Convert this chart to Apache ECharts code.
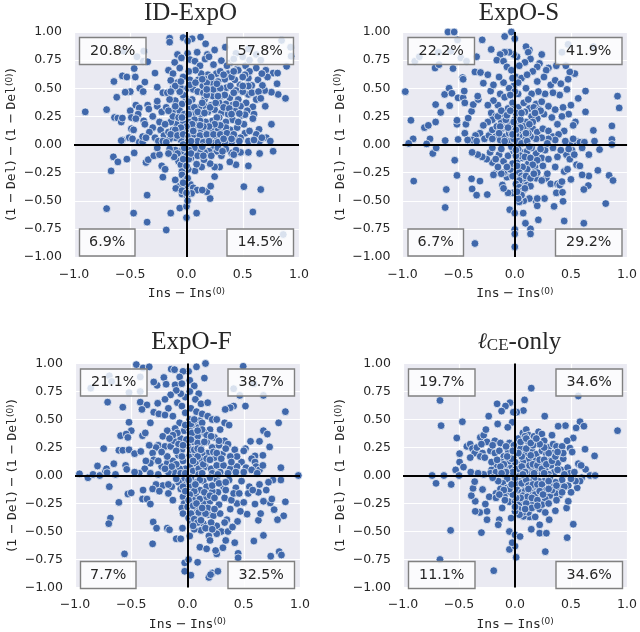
<!DOCTYPE html>
<html><head><meta charset="utf-8">
<script src="https://cdn.jsdelivr.net/npm/echarts@6/dist/echarts.min.js"></script>
<style>html,body{margin:0;padding:0;background:#fff}#c{width:640px;height:632px}</style></head>
<body><div id="c"></div>
<script>
const panelTitles = ['ID-ExpO', 'ExpO-S', 'ExpO-F', '{l|ℓ}{sub|CE}{t|-only}'];
const quadrantLabels = [
  ['20.8%', '57.8%', '6.9%', '14.5%'],
  ['22.2%', '41.9%', '6.7%', '29.2%'],
  ['21.1%', '38.7%', '7.7%', '32.5%'],
  ['19.7%', '34.6%', '11.1%', '34.6%']
];
const idExpO = [
[-.90,.29],[-.71,.31],[-.71,-.57],[-.47,-.61],[-.35,-.69],[-.18,-.76],[-.14,-.61],[-.06,-.565],[0,-.55],[0,-.65],[.09,-.61],[.59,-.60],[.66,-.40],[.51,-.375],[.86,-.80],[.21,-.48],[.18,-.42],[.215,-.37],[.25,-.285],[-.35,-.45],[-.21,-.29],[-.67,-.235],[-.65,-.11],[-.61,-.155],[-.53,-.13],[-.465,-.075],[-.36,-.16],[-.34,-.135],[-.29,-.1],[-.24,-.09],[-.22,-.19],[-.19,-.22],[-.10,-.315],[-.07,-.375],[-.095,-.39],[-.04,-.44],[-.01,-.39],[-.04,-.41],[.035,-.355],[.06,-.385],[.095,-.405],[.14,-.405],[.045,-.435],[.005,-.46],[0,-.43],[.01,-.5],
[-.645,.56],[-.57,.61],[-.53,.6],[-.455,.6],[-.465,.675],[-.37,.555],[-.415,.5],[-.385,.47],[-.5,.47],[-.545,.465],[-.62,.42],[-.28,.635],[-.26,.51],[-.385,.74],[-.345,.735],[-.38,.83],[-.56,.83],[-.44,.78],[-.64,.24],[-.61,.235],[-.58,.2],[-.57,.235],[-.5,.3],[-.49,.24],[-.49,.14],[-.47,.13],[-.51,.06],[-.57,.04],[-.58,.035],[-.48,.05],[-.42,.02],[-.39,.02],[-.45,.35],[-.42,.325],[-.43,.27],[-.45,.23],[-.38,.21],[-.37,.18],[-.345,.35],[-.335,.315],[-.3,.25],[-.3,.15],[-.33,.11],[-.39,.07],[-.36,.06],[-.26,.34],[-.26,.385],[-.22,.29],[-.24,.2],[-.23,.13],[-.28,.06],[-.25,.03],[-.21,.46],[-.17,.46],
[-.15,.945],[-.15,.91],[-.03,.95],[.05,.94],[.125,.955],[.01,.92],[.17,.895],[-.08,.80],[.01,.81],[.095,.82],[.185,.80],[.25,.84],[.345,.865],[-.105,.73],[-.06,.68],[-.16,.66],[-.12,.63],[-.045,.77],[.03,.755],[.075,.74],[.12,.70],[.165,.76],[.2,.78],[.24,.71],[.31,.745],[.385,.725],[.45,.67],[.525,.70],[.62,.68],[.705,.66],[.77,.635],[.81,.635],[.89,.695],[.845,.925],[.925,.865],[.93,.785],[.805,.54],[.815,.445],[.88,.41],[.755,.465],[.695,.48],[.72,.60],[.635,.575],[.675,.525],[.62,.40],[.55,.445],[.475,.53],[.355,.505],[.265,.49],[.205,.49],[.145,.52],[.105,.575],[.03,.575],[.265,.63],[.19,.62],[.37,.63],[.43,.575],[.55,.59],[.58,.525],[.70,.34],[.59,.335],[.53,.37],[.46,.40],[.385,.415],[.31,.43],[.235,.43],[.16,.40],
[.44,.81],[.55,.85],[.62,.8],[.66,.75],[.56,.75],[.5,.78],[.42,.76],[.36,.7],[.3,.65],[.56,.65],[.67,.63],[.52,.62],[.46,.66],[.4,.6],[.34,.58],[.28,.56],[.23,.55],[.17,.58],[.13,.63],[.08,.66],[.02,.65],[-.03,.6],[-.08,.55],[-.14,.57],[-.12,.5],[-.05,.5],[.01,.5],[.06,.49],[.1,.47],[.15,.46],[.18,.55],[.24,.49],[.3,.5],[.39,.52],[.44,.48],[.5,.47],[.58,.46],[.64,.47],[.66,.41],[.48,.34],[.41,.35],[.35,.36],[.29,.37],[.22,.35],[.16,.34],[.11,.33],[.05,.4],[-.01,.42],[-.04,.36],[-.1,.39],[-.15,.4],[-.18,.33],[-.12,.3],[-.06,.3],[-.02,.27],[.03,.33],[.08,.28],[.13,.27],[.19,.29],[.25,.31],[.31,.28],[.37,.27],[.43,.3],[.49,.26],[.54,.3],[.6,.27],
[.755,.18],[.645,.135],[.62,.09],[.71,.06],[.745,.03],[.65,.03],[.52,.10],[.59,.23],[.52,.265],[.47,.275],[.41,.22],[.35,.2],[.29,.24],[.23,.21],[.17,.2],[.12,.21],[.07,.22],[.02,.2],[-.03,.19],[-.09,.18],[-.14,.2],[-.19,.18],[-.2,.08],[-.16,.11],[-.12,.13],[-.07,.1],[-.02,.12],[.03,.14],[.08,.13],[.13,.11],[.18,.13],[.23,.12],[.28,.14],[.33,.1],[.39,.13],[.45,.15],[.51,.18],[.56,.12],[.48,.06],[.43,.05],[.37,.07],[.31,.06],[.27,.04],[.21,.07],[.16,.05],[.1,.06],[.05,.07],[0,.05],[-.05,.04],[-.1,.06],[-.15,.05],[-.21,.03],[-.18,.02],[.55,.03],[.6,.04],[.67,.06],[.4,.02],[.34,.02],[.24,.01],[.11,.01],[.06,.02],[-.03,0],
[.77,-.06],[.65,-.08],[.55,-.07],[.44,-.18],[.385,-.155],[.55,-.19],[.40,-.075],[.31,-.10],[.235,-.045],[.295,-.20],[.25,-.2],[.21,-.17],[.135,-.20],[.075,-.235],[.015,-.22],[.09,-.175],[.155,-.135],[.075,-.09],[.48,-.07],[.44,-.05],[.42,-.09],[.35,-.04],[.27,-.06],[.2,-.06],[.16,-.07],[.12,-.05],[.07,-.03],[.02,-.05],[.04,-.12],[-.02,-.1],[-.05,-.06],[-.1,-.05],[-.15,-.04],[-.26,-.03],[-.07,-.15],[-.05,-.18],[-.04,-.24],[-.04,-.27],[0,-.19],[.02,-.13],[-.01,-.32],[.01,-.3],[-.03,-.34],
[-.02,.44],[.02,.38],[.07,.33],[.1,.29],[.14,.37],[.18,.44],[.21,.33],[.26,.37],[.27,.24],[.33,.33],[.38,.32],[.44,.36],[.4,.27],[.46,.2],[.35,.15],[.3,.17],[.25,.18],[.2,.16],[.15,.16],[.1,.17],[.05,.18],[0,.16],[-.05,.15],[-.1,.13],[-.14,.09],[-.08,.08],[-.03,.09],[.02,.07],[.07,.09],[.12,.08],[.18,.09],[.24,.09],[.3,.09],[.36,.1],[.42,.09],[.1,.03],[.04,.03],[.15,.02],[.2,.03],[.28,.02],[.33,.05],[.4,.05],[.47,.03],[-.02,-.03],[.04,-.08],[.1,-.1],[.15,-.1],[.22,-.1],[.28,-.03],[.32,-.06],[.14,-.02],[-.08,-.08],[-.03,-.13],[-.11,-.11],[-.16,-.08],[-.12,.25],[-.07,.24],[-.16,.3],[-.1,.34],[-.04,.24],[.02,.27],[-.03,.44],[-.06,.47],[-.1,.52],[-.14,.47],[-.05,.56],[.03,.53],[.08,.55],[.14,.58],[.18,.49],[.22,.6],[.27,.54],[.33,.62],[.42,.65],[.5,.6],[.55,.52],[.5,.52],[.42,.46],[.34,.44],[.28,.43],[.16,.28],[.06,.12],[.12,.17]
];
const expOS = [
[-.975,.47],[-.925,.215],[-.90,-.325],[-.905,.05],[-.945,.01],[-.805,.15],[-.77,.17],[-.705,.2],[-.755,.05],[-.785,.005],[-.73,-.08],[-.70,-.03],[-.62,.035],[-.61,-.40],[-.62,-.56],[-.355,-.88],[-.515,-.275],[-.535,-.14],[-.385,-.305],[-.31,-.325],[-.38,-.395],[-.34,-.45],[-.245,-.445],[-.505,.045],[-.515,.18],[-.515,.215],[-.435,.18],[-.445,.10],[-.415,.235],[-.385,.295],[-.705,.355],[-.66,.285],[-.625,.445],[-.585,.50],[-.56,.455],[-.58,.345],[-.505,.415],[-.46,.415],[-.45,.475],[-.445,.37],[-.37,.355],[-.325,.40],[-.33,.43],[-.465,.595],[-.46,.58],[-.55,.675],[-.71,.68],[-.675,.71],[-.595,1],[-.54,1],[-.51,.93],[-.29,.93],[-.21,.845],[-.09,.96],[-.03,1],[0,.94],[-.89,.74],[-.85,.78],[-.68,.82],[-.57,.83],[-.48,.77],[-.43,.74],[-.34,.78],[-.355,.645],[-.305,.64],[-.28,.545],[-.24,.62],[-.215,.475],
[.915,.43],[.93,.325],[.865,.165],[.865,.045],[.865,0],[.84,-.275],[.875,-.32],[.81,-.525],[.74,-.23],[.66,-.28],[.655,-.365],[.615,-.40],[.615,-.70],[.44,-.68],[.43,-.505],[.70,.125],[.755,-.045],[.71,.03],[.66,-.09],[.63,.475],[.565,.41],[.63,.29],[.535,.63],[.49,.645],[.475,.58],[.465,.49],[.455,.70],[.70,.87],[.475,.89],[.42,.82],[.37,.7],[.3,.68],[.24,.8],[.13,.84],[.1,.87],[.12,.82],[.14,.76],[.22,.72],[.28,.66],[.2,.69],[.16,.65],[.09,.73],[.02,.78],[.04,.7],[-.01,.8],[-.05,.82],[-.09,.82],[-.13,.8],[-.16,.75],[-.1,.74],[-.07,.69],[-.03,.66],[.01,.6],[.06,.59],[.11,.62],[.2,.56],[.26,.6],[.32,.53],[.36,.57],[.41,.54],[.4,.44],[.34,.46],[.27,.45],[.21,.47],[.15,.45],[.1,.5],[.03,.45],[-.01,.52],[-.05,.5],[-.1,.55],[-.14,.6],[-.19,.53],[-.13,.45],[-.09,.42],[-.15,.35],[-.19,.39],[-.24,.35],[-.21,.28],[-.17,.25],[-.2,.22],[-.24,.2],[-.28,.17],[-.31,.1],[-.35,.08],[-.38,.04],[-.42,.04],[-.34,.03],[-.27,.05],[-.23,.08],[-.2,.13],[-.16,.16],[-.12,.2],[-.1,.27],[-.06,.32],[-.02,.37],[.03,.33],[.08,.37],[.13,.32],[.19,.36],[.24,.38],[.3,.34],[.36,.31],[.43,.33],[.5,.35],[.48,.27],[.42,.25],[.54,.2],[.52,.17],[.44,.12],[.38,.18],[.33,.24],[.26,.27],[.2,.23],[.15,.25],[.1,.2],[.04,.26],[0,.22],[-.04,.19],[-.08,.15],[-.13,.12],[-.17,.07],[-.13,.04],[-.09,.07],[-.05,.1],[-.02,.15],[.03,.17],[.07,.12],[.11,.15],[.16,.14],[.2,.11],[.25,.14],[.3,.12],[.34,.07],[.39,.09],[.36,.04],[.3,.05],[.24,.06],[.19,.05],[.14,.07],[.09,.05],[.04,.08],[0,.04],[-.04,.03],[.5,.02],[.55,.03],[.58,.02],[.62,.02],[.52,.05],[.45,.03],
[.14,-.75],[.14,-.795],[.095,-.70],[-.045,-.58],[0,-.755],[0,-.795],[0,-.91],[.075,-.61],[0,-.61],[.21,-.67],[.19,-.505],[.265,-.48],[.2,-.545],[.35,-.55],[.37,-.43],[.425,-.425],[.2,-.48],[.13,-.48],[.08,-.5],[.04,-.51],[.03,-.45],[.05,-.41],[-.02,-.43],[-.06,-.43],[-.11,-.36],[-.1,-.39],[-.07,-.29],[-.09,-.25],[-.1,-.25],[-.18,-.26],[-.19,-.27],[-.2,-.16],[-.25,-.13],[-.29,-.11],[-.33,-.09],[-.38,-.07],[-.22,-.07],[-.14,-.09],[-.1,-.15],[-.06,-.1],[-.01,-.06],[.02,-.15],[.03,-.21],[.01,-.25],[.02,-.31],[.03,-.36],[.07,-.33],[.11,-.36],[.14,-.37],[.19,-.3],[.28,-.3],[.32,-.35],[.38,-.35],[.4,-.36],[.42,-.33],[.5,-.31],[.44,-.24],[.36,-.2],[.29,-.26],[.25,-.19],[.18,-.2],[.12,-.17],[.07,-.12],[.06,-.07],[.11,-.06],[.19,-.08],[.24,-.12],[.3,-.13],[.38,-.11],[.46,-.09],[.51,-.05],[.47,-.22],[.55,-.18],[.58,-.19],[.6,-.27],[.49,-.13],[.41,-.05],[.34,-.03],[.27,-.05],[.15,-.03],[.48,-.04],[.53,-.09],[.6,-.03],
[.0,.47],[.03,.55],[-.02,.59],[-.04,.44],[-.02,.31],[.01,.28],[.05,.22],[.09,.29],[.12,.4],[.17,.33],[.22,.31],[.16,.2],[.12,.1],[.08,.16],[.03,.12],[.01,.09],[-.01,.05],[.03,.03],[.06,.01],[.11,.03],[.13,-.02],[-.03,.12],[-.06,.15],[-.08,.22],[-.13,.16],[-.15,.25],[-.12,.3],[-.07,.26],[-.04,.3],[-.14,.1],[-.2,.05],[-.09,.03],[-.03,-.02],[.03,-.04],[.05,-.1],[.01,-.1],[.09,-.11],[.14,-.12],[.2,-.14],[.16,-.18],[.11,-.22],[.07,-.2],[.04,-.25],[.06,-.28],[.08,-.3],[.1,-.28],[.14,-.3],[.04,-.32],[.01,-.35],[.04,-.38],[.07,-.41],[.09,-.39],[.06,-.45],[.03,-.48],[.02,-.42],[-.02,-.28],[-.04,-.22],[-.02,-.17],[-.07,-.2],[-.12,-.26],[-.15,-.2],[-.17,-.13],[-.12,-.04],[-.2,-.03],[.02,-.19],[.01,-.05],[.2,-.25],[.24,-.32],[.17,-.26],[.23,-.04],[.29,.01],[.23,.3],[.18,.28],[.13,.18],[.06,.28],[.1,.1],[.05,.15],[-.01,.2],[.01,.13],[-.02,.09]
];
const expOF = [
[-.96,.015],[-.885,-.02],[-.84,.01],[-.80,.085],[-.78,0],[-.73,.04],[-.72,.06],[-.715,.025],[-.695,-.10],[-.655,.105],[-.64,.01],[-.745,.24],[-.71,.655],[-.575,.61],[-.455,.99],[-.395,.96],[-.34,.97],[-.695,.89],[-.675,.84],[-.86,.78],[-.52,.74],[-.42,.88],[-.42,.75],[-.42,.655],[-.36,.63],[-.405,.59],[-.265,.645],[-.52,.475],[-.50,.40],[-.595,.355],[-.545,.37],[-.53,.34],[-.40,.355],[-.375,.38],[-.33,.47],[-.30,.565],[-.255,.55],[-.27,.805],[-.30,.835],[-.21,.875],[-.19,.815],[-.145,.95],[-.115,.945],[-.61,.225],[-.575,.225],[-.52,.23],[-.47,.195],[-.415,.215],[-.55,.09],[-.54,.055],[-.61,-.24],[-.685,-.38],[-.70,-.43],[-.53,-.165],[-.50,-.155],[-.40,-.21],[-.36,-.21],[-.33,-.255],[-.395,-.13],[-.305,-.415],[-.275,-.47],[-.31,-.61],[-.56,-.70],[-.18,-.47],[-.16,-.485],[-.10,-.565],[-.045,-.47],[-.06,-.565],
[-.025,-.78],[-.025,-.855],[.03,-.89],[.01,-.75],[.09,-.775],[.19,-.91],[.22,-.87],[.205,-.885],[.27,-.855],[.11,-.64],[.17,-.655],[.26,-.70],[.25,-.67],[.315,-.645],[.45,-.695],[.45,-.735],[.59,-.585],[.675,-.535],[.74,-.72],[.815,-.68],[.835,-.71],[.855,-.36],[.80,-.395],[.87,-.235],[.77,-.305],[.735,-.245],[.675,-.23],[.63,-.40],[.65,-.34],[.53,-.345],[.60,-.255],[.44,-.25],[.445,-.41],[.35,-.395],
[.985,0],[.87,.57],[.81,.47],[.83,.07],[.83,-.04],[.76,-.04],[.675,.40],[.71,.37],[.73,.255],[.67,.18],[.60,.175],[.64,.305],[.56,.305],[.515,.24],[.515,.62],[.41,.62],[.38,.605],[.335,.59],[.495,.975],[.41,.775],[.465,.715],[.675,.715],[.59,.82],[.15,.87],[.16,1],[.08,.97],[.01,.93],[-.04,.93],[-.07,.88],[-.11,.81],[-.05,.82],[.02,.85],[.06,.8],[.02,.75],[.1,.73],[.07,.68],[.12,.64],[.18,.65],[-.02,.7],[-.06,.73],[-.1,.76],[-.15,.72],[-.2,.68],[-.09,.65],[-.17,.6],[-.2,.54],[-.13,.53],[-.05,.62],[-.02,.56],[.03,.6],[.08,.57],[.02,.5],[-.07,.47],[-.11,.42],[-.18,.4],[-.22,.35],[-.26,.27],[-.2,.26],[-.28,.25],[-.31,.2],[-.3,.14],[-.33,.11],[-.37,.13],[-.34,.27],[-.38,.06],[-.43,.02],[-.47,.03],[-.33,.02],[-.26,.01],[-.23,.08],[-.18,.11],[-.13,.13],[-.15,.26],[-.12,.31],[-.06,.33],[-.03,.4],[.02,.41],[.07,.45],[.11,.49],[.13,.55],[.18,.53],[.22,.5],[.26,.5],[.33,.47],[.37,.45],[.29,.41],[.2,.41],[.15,.38],[.09,.35],[.05,.3],[.0,.27],[-.05,.23],[-.08,.18],[-.04,.13],[.02,.18],[.07,.2],[.12,.27],[.17,.3],[.22,.25],[.28,.27],[.33,.31],[.36,.28],[.42,.23],[.5,.22],[.48,.12],[.44,.17],[.38,.17],[.31,.19],[.24,.16],[.18,.2],[.12,.14],[.07,.11],[.02,.08],[-.02,.06],[-.07,.06],[-.12,.03],[-.17,.03],[.05,.04],[.1,.06],[.16,.08],[.21,.06],[.26,.09],[.32,.09],[.38,.06],[.44,.08],[.52,.07],[.57,.15],[.6,.12],[.61,.08],[.57,.05],[.64,.05],[.67,.09],[.62,.02],[.5,.03],[.43,.03],[.36,.02],[.29,.03],[.22,.02],[.1,.01],
[.72,-.06],[.64,-.08],[.55,-.1],[.48,-.05],[.43,-.11],[.37,-.04],[.32,-.1],[.26,-.04],[.2,-.02],[.14,-.05],[.08,-.06],[.03,-.02],[-.03,-.04],[-.08,-.06],[-.14,-.1],[-.17,-.16],[-.13,-.22],[-.22,-.09],[-.28,-.08],[-.31,-.12],[-.25,-.14],[-.06,-.12],[-.04,-.19],[-.03,-.25],[-.05,-.29],[-.04,-.34],[.0,-.28],[.01,-.38],[.03,-.43],[.06,-.33],[.08,-.29],[.11,-.36],[.14,-.43],[.19,-.35],[.23,-.36],[.26,-.45],[.3,-.5],[.36,-.5],[.4,-.46],[.42,-.6],[.34,-.58],[.26,-.52],[.19,-.54],[.2,-.58],[.12,-.49],[.06,-.48],[.02,-.54],[.15,-.25],[.2,-.23],[.28,-.26],[.33,-.2],[.39,-.22],[.41,-.16],[.34,-.13],[.27,-.15],[.22,-.14],[.17,-.1],[.11,-.13],[.07,-.17],[.02,-.1],[.05,-.22],[.11,-.21],[.46,-.16],[.54,-.16],[.5,-.24],[.63,-.15],[.7,-.13],[.75,-.21],[.58,-.13],[.47,-.32],[.38,-.3],[.29,-.34],[.18,-.29],
[-.02,.45],[.03,.46],[.06,.5],[.1,.43],[.13,.47],[.04,.38],[.09,.29],[.13,.2],[.03,.23],[-.01,.32],[.06,.23],[.09,.17],[.05,.13],[.14,.1],[.17,.15],[.23,.21],[.26,.2],[.3,.15],[.24,.34],[.28,.31],[.34,.24],[.39,.12],[.17,.36],[.21,.35],[.13,.41],[.09,.4],[-.09,.38],[-.13,.36],[-.16,.33],[-.08,.28],[-.04,.27],[-.1,.22],[-.05,.17],[-.1,.1],[-.14,.08],[-.18,.17],[-.23,.21],[-.26,.13],[-.2,.06],[-.06,.02],[-.02,.02],[-.01,-.08],[.04,-.09],[.06,-.14],[.02,-.17],[.01,-.22],[.05,-.27],[.08,-.25],[.1,-.33],[.03,-.34],[.06,-.39],[.09,-.42],[.05,-.45],[.12,-.4],[.16,-.34],[.13,-.29],[.17,-.19],[.22,-.09],[.28,-.07],[.34,-.06],[.11,-.04],[.15,-.15],[.2,-.18],[.24,-.2],[.24,-.3],[.21,-.42],[.16,-.47],[.22,-.48],[.33,-.42],[.07,-.08],[-.04,-.1],[-.1,-.03],[-.17,-.08],[-.02,-.14],[.01,-.04],[.13,.02],[.27,.01],[.09,.24],[.2,.14],[.15,.3],[.03,.32],[.12,.23]
];
const ceOnly = [
[.915,.40],[.145,.78],[.565,.71],[.085,.675],[.075,.58],[.015,.565],[-.67,.67],[-.66,.445],[-.47,.48],[-.52,.335],[-.16,.64],[-.045,.65],[-.085,.62],[-.12,.575],[-.235,.53],[-.155,.46],[.265,.53],[-.015,.565],[-.025,.475],[-.065,.43],[.58,.48],[.615,.44],[.545,.425],[.45,.445],[.385,.44],[.52,.335],[.625,.235],[.71,.175],[.465,.31],[.49,.245],[.51,.21],[.565,.105],[.63,.055],[.59,.09],[.67,0],[.715,0],[.595,-.02],[.555,-.11],
[-.74,0],[-.705,-.07],[-.635,0],[-.57,-.08],[-.53,.05],[-.495,.12],[-.495,.195],[-.46,.075],[-.43,.26],[-.395,.03],[-.50,0],[-.575,-.49],[-.67,-.75],[-.19,-.85],[.01,-.73],[-.05,-.66],[0,-.63],[-.025,-.60],[-.05,-.50],[0,-.53],[.045,-.545],[.27,-.68],[.465,-.555],[.52,-.435],[.22,-.44],[.22,-.515],[.28,-.515],[.145,-.48],[.13,-.37],[.075,-.365],[-.035,-.38],[-.14,-.395],[-.15,-.44],[-.30,-.51],[-.25,-.395],[-.25,-.32],[-.265,-.255],[-.315,-.33],[-.355,-.32],[-.355,-.23],[-.39,-.18],[-.375,-.115],[-.36,-.055],[-.29,-.125],[-.23,-.19],[-.17,-.16],[-.17,-.2],[-.115,-.29],[-.05,-.235],[.305,-.395],[.36,-.315],[.46,-.29],[.475,-.23],[.4,-.175],[.475,-.09],[.395,-.09],
[-.4,.28],[-.38,.24],[-.36,.2],[-.34,.25],[-.31,.34],[-.28,.36],[-.26,.41],[-.25,.3],[-.22,.22],[-.29,.2],[-.31,.17],[-.27,.16],[-.18,.2],[-.18,.31],[-.13,.29],[-.14,.22],[-.1,.17],[-.08,.13],[-.12,.12],[-.17,.09],[-.21,.05],[-.22,.02],[-.17,.03],[-.12,.05],[-.07,.06],[-.03,.08],[-.05,.13],[-.01,.18],[-.06,.22],[-.05,.29],[-.01,.27],[.03,.33],[.07,.38],[.1,.41],[.12,.36],[.17,.35],[.21,.39],[.24,.37],[.26,.31],[.2,.29],[.12,.3],[.05,.24],[.1,.2],[.15,.22],[.19,.19],[.24,.22],[.3,.25],[.34,.28],[.37,.26],[.42,.26],[.34,.2],[.29,.14],[.24,.12],[.18,.13],[.12,.14],[.07,.12],[.02,.1],[.05,.03],[.1,.07],[.15,.05],[.21,.06],[.27,.06],[.32,.09],[.38,.11],[.43,.15],[.41,.05],[.35,.03],[.47,.07],[.49,.02],[.53,.03],[.44,.01],[.3,.01],[.24,.02],[.12,.01],[.02,.02],[-.05,.02],[-.1,.01],[-.28,.01],[-.33,.02],[.33,.36],[.28,.19],[.43,.2],[-.2,.27],[-.08,.26],[-.3,.28],[-.4,.16],[-.21,.12],
[.58,-.05],[.54,-.05],[.5,-.03],[.42,-.04],[.36,-.06],[.31,-.02],[.26,-.05],[.21,-.05],[.17,-.03],[.13,-.06],[.08,-.02],[.03,-.05],[-.03,-.05],[-.07,-.03],[-.11,-.07],[-.15,-.05],[-.2,-.02],[-.07,-.11],[-.13,-.12],[-.09,-.17],[-.04,-.15],[.0,-.1],[.05,-.1],[.09,-.1],[.03,-.17],[.0,-.23],[.04,-.25],[.08,-.22],[.12,-.17],[.17,-.13],[.21,-.11],[.26,-.1],[.31,-.09],[.35,-.13],[.4,-.12],[.44,-.1],[.36,-.16],[.31,-.18],[.27,-.21],[.23,-.17],[.19,-.2],[.18,-.24],[.14,-.25],[.1,-.28],[.12,-.33],[.07,-.33],[.03,-.3],[.22,-.3],[.24,-.26],[.27,-.33],[.18,-.37],[.3,-.25],[.37,-.22],[.42,-.15],[.5,-.15],
[.0,.05],[.03,.06],[.06,.08],[.09,.03],[.13,.09],[.16,.1],[.2,.09],[.22,.14],[.26,.14],[.24,.06],[.28,.1],[.33,.13],[.36,.17],[.38,.21],[.3,.2],[.26,.25],[.22,.28],[.16,.27],[.14,.18],[.1,.24],[.06,.17],[.03,.2],[.0,.12],[-.03,.15],[-.07,.17],[-.1,.1],[-.13,.08],[-.16,.14],[-.02,.03],[-.08,.03],[-.12,.02],[.0,-.03],[.03,-.08],[.06,-.07],[.1,-.04],[.12,-.09],[.16,-.08],[.2,-.08],[.24,-.08],[.28,-.13],[.33,-.13],[.3,-.05],[.37,-.09],[.02,-.13],[.06,-.15],[.09,-.14],[.14,-.15],[.18,-.17],[.22,-.14],[.25,-.17],[.07,-.18],[.11,-.19],[.15,-.2],[.2,-.22],[.05,-.2],[.01,-.2],[.1,-.25],[.15,-.29],[.2,-.27],[.09,-.3],[.04,-.35],[-.02,-.17],[-.05,-.12],[-.03,-.08],[-.1,-.13],[-.14,-.17],[-.09,-.22],[.0,-.32],[.0,-.28],[.12,-.12],[.3,-.12],[.38,.05],[.26,.02],[.17,.02],[.07,.01],[-.02,.22],[.05,.3],[.09,.35],[.1,.33],[.14,.29],[.19,.33]
];

const plots = [
  {data: idExpO, left: 74, top: 32, right: 299, bottom: 257, titleUp: 36},
  {data: expOS, left: 402.5, top: 32, right: 627.5, bottom: 257, titleUp: 36},
  {data: expOF, left: 75, top: 363.5, right: 300, bottom: 589.5, titleUp: 39},
  {data: ceOnly, left: 403, top: 363.5, right: 628, bottom: 589.5, titleUp: 39}
];
const ink = '#262626';
const mono = '"DejaVu Sans Mono"';
const rich = {
  m: {fontFamily: mono, fontSize: 13, color: ink},
  s: {fontFamily: '"DejaVu Sans"', fontSize: 13, color: ink},
  sup: {fontFamily: '"DejaVu Sans"', fontSize: 9, color: ink, verticalAlign: 'top', padding: [0,0,5,0]}
};
const xName = '{m|Ins} {s|−} {m|Ins}{sup|(0)}';
const yName = '{s|(1 −} {m|Del}{s|) − (1 −} {m|Del}{sup|(0)}{s|)}';
const fmtX = v => v.toFixed(1).replace('-', '−');
const fmtY = v => v.toFixed(2).replace('-', '−');

const option = {
  animation: false, backgroundColor: '#fff',
  title: plots.map((p, i) => ({
    text: panelTitles[i], left: (p.left + p.right) / 2 - 1, top: p.top - p.titleUp, textAlign: 'center',
    textStyle: {fontFamily: '"Liberation Serif"', fontWeight: 'normal', fontSize: 25, color: ink,
      rich: {l: {fontFamily: '"DejaVu Serif"', fontStyle: 'italic', fontSize: 22, color: ink},
             sub: {fontFamily: '"Liberation Serif"', fontSize: 17, color: ink, verticalAlign: 'bottom', padding: [6,0,0,0]},
             t: {fontFamily: '"Liberation Serif"', fontSize: 25, color: ink}}}
  })),
  grid: plots.map(p => ({left: p.left, top: p.top, width: p.right - p.left, height: p.bottom - p.top,
    backgroundColor: '#EAEAF2', show: true, borderWidth: 0})),
  xAxis: plots.map((p, i) => ({gridIndex: i, type: 'value', min: -1, max: 1, interval: 0.5,
    axisLine: {show: false}, axisTick: {show: false},
    splitLine: {show: true, lineStyle: {color: '#fff', width: 1.2}},
    axisLabel: {color: ink, fontFamily: '"DejaVu Sans"', fontSize: 12.5, margin: 11, formatter: fmtX, showMinLabel: true, showMaxLabel: true, hideOverlap: false},
    name: xName, nameLocation: 'middle', nameGap: 30, nameTextStyle: {rich}})),
  yAxis: plots.map((p, i) => ({gridIndex: i, type: 'value', min: -1, max: 1, interval: 0.25,
    axisLine: {show: false}, axisTick: {show: false},
    splitLine: {show: true, lineStyle: {color: '#fff', width: 1.2}},
    axisLabel: {color: ink, fontFamily: '"DejaVu Sans"', fontSize: 12.5, margin: 12, padding: [3, 0, 0, 0], formatter: fmtY, showMinLabel: true, showMaxLabel: true, hideOverlap: false},
    name: yName, nameLocation: 'middle', nameGap: 55, nameRotate: 90, nameTextStyle: {rich}})),
  series: plots.map((p, i) => ({
    type: 'scatter', xAxisIndex: i, yAxisIndex: i, data: p.data, symbolSize: 7.8, clip: true, silent: true,
    itemStyle: {color: '#4068AB', borderColor: '#fff', borderWidth: 0.7, opacity: 1},
    markLine: {silent: true, symbol: 'none', animation: false, label: {show: false}, z: 10,
      lineStyle: {color: '#000', width: 2, type: 'solid'}, emphasis: {disabled: true},
      data: [{xAxis: 0}, {yAxis: 0}]}
  })),
  graphic: plots.flatMap((p, i) => {
    const L = p.left + 5.5, R = p.right - 5.5, T = p.top + 5.5, B = p.bottom - 1;
    const box = (t, x, y, right, bottom) => {
      const short = t.length < 5;
      const w = short ? 55.5 : 66.5, h = 27;
      const bx = right ? x - w : x, by = bottom ? y - h : y;
      return [
        {type: 'rect', z: 50, shape: {x: bx, y: by, width: w, height: h},
         style: {fill: 'rgba(255,255,255,0.8)', stroke: '#808080', lineWidth: 1.4}},
        {type: 'text', z: 51, style: {x: bx + w / 2, y: by + h / 2, text: t, align: 'center', verticalAlign: 'middle',
          fontFamily: '"DejaVu Sans"', fontSize: 14.3, fill: ink}}
      ];
    };
    const q = quadrantLabels[i];
    return [...box(q[0], L, T), ...box(q[1], R, T, true), ...box(q[2], L, B, false, true), ...box(q[3], R, B, true, true)];
  })
};
echarts.init(document.getElementById('c'), null, {renderer: 'canvas'}).setOption(option);
</script></body></html>
